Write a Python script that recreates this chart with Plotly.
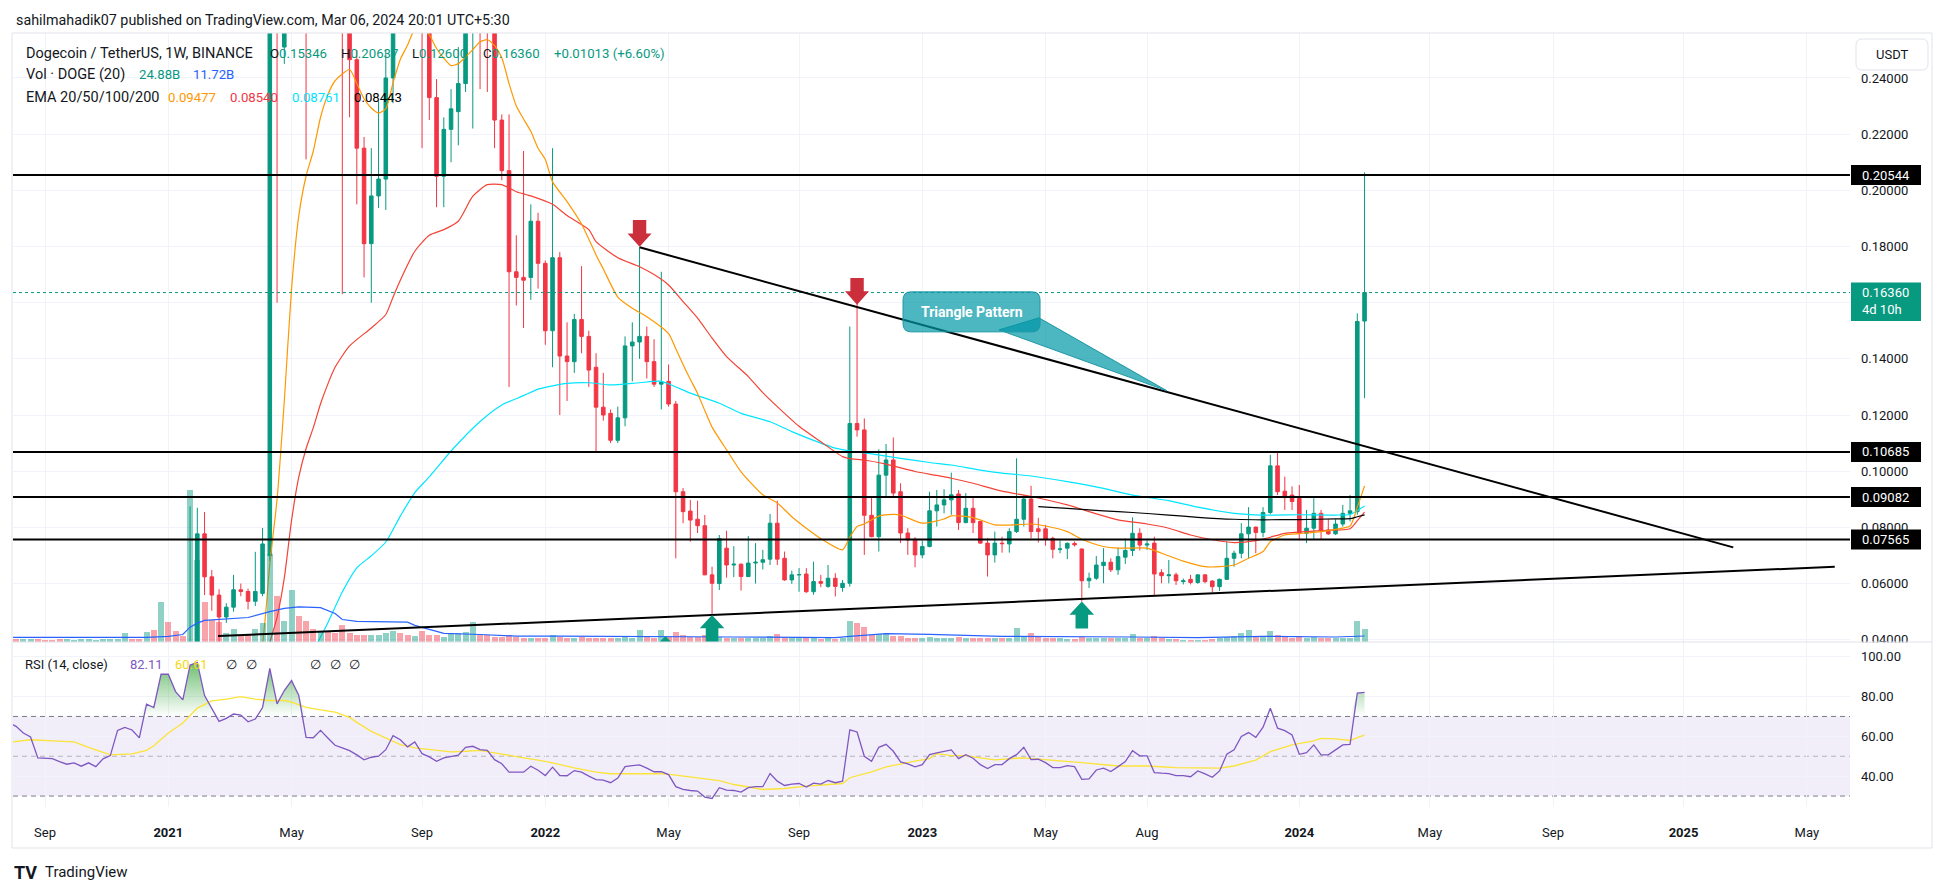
import pandas as pd
import plotly.graph_objects as go

W, H = 1946, 893
UP, DOWN = "#089981", "#f23645"
TXT = "#131722"
GRID = "#f0f3fa"
FONT = "Roboto"

# weekly bars, DOGE/USDT Binance, first bar = week of 2020-08-03
weeks = pd.date_range("2020-08-03", periods=188, freq="7D")

opens = (
    [.0033, .0036, .0034, .0035, .0035, .0030, .0029, .0027, .0026, .0026, .0026, .0026, .0026, .0026, .0027, .0028,
     .0033, .0034, .0033, .0032, .0047, .0046]
    + [.0098, .0090, .0082, .0077, .0370, .0777, .0624, .0559, .0481, .0516, .0578, .0572, .0537, .0565, .0700, .3180,
       .2510, .3950, .5850, .4900, .3400, .3000, .3300, .3100, .2800, .2620, .2465, .2150, .1810, .1980, .2040, .2400,
       .3350, .3250, .3000, .3100, .2600, .2330, .2050, .2217, .2280, .2380, .2620, .2680, .2650, .2620, .2250, .2070,
       .1710, .1690, .1690, .1890]
    + [.1740, .1500, .1760, .1410, .1390, .1540, .1480, .1370, .1228, .1206, .1110, .1190, .1446, .1460, .1480, .1390,
       .1310, .1320, .1239, .0927, .0858, .0829, .0806, .0631, .0600, .0726, .0666, .0669, .0625, .0673, .0676, .0687,
       .0815, .0690, .0613, .0631, .0634, .0571, .0607, .0590, .0619, .0586, .0601, .1170, .1147, .0843, .0767, .0986,
       .1040, .0927, .0780, .0758]
    + [.0702, .0732, .0859, .0880, .0898, .0919, .0817, .0868, .0821, .0744, .0702, .0744, .0741, .0785, .0829, .0901,
       .0795, .0795, .0761, .0722, .0726, .0743, .0723, .0610, .0619, .0664, .0676, .0649, .0694, .0718, .0779, .0737,
       .0744, .0639, .0628, .0631, .0607, .0615, .0604, .0631, .0609, .0589, .0615, .0690, .0708, .0777, .0801, .0782,
       .0853, .1019, .0929, .0915]
    + [.0903, .0779, .0797, .0850, .0791, .0777, .0812, .0850, .0856, .15346]
)
highs = (
    [.0038, .0037, .0037, .0036, .0036, .0031, .0030, .0028, .0027, .0027, .0027, .0027, .0027, .0028, .0029, .0034,
     .0046, .0036, .0034, .0049, .0051, .0107]
    + [.0110, .0095, .0088, .0875, .0870, .0855, .0648, .0580, .0530, .0631, .0600, .0582, .0713, .0798, .4400, .4300,
       .4200, .7400, .6000, .5000, .3600, .4400, .3400, .3300, .2900, .2720, .2500, .2190, .2150, .2317, .2500, .3500,
       .3500, .3300, .3300, .3200, .2650, .2396, .2260, .2360, .2510, .2750, .3000, .2900, .2900, .2650, .2270, .2270,
       .1840, .2140, .1950, .1920]
    + [.1750, .2150, .1780, .1530, .1560, .1730, .1500, .1420, .1350, .1220, .1230, .1480, .1530, .1797, .1515, .1470,
       .1710, .1380, .1250, .0940, .0898, .0895, .0844, .0660, .0773, .0788, .0733, .0672, .0769, .0744, .0720, .0848,
       .0895, .0714, .0646, .0655, .0655, .0678, .0631, .0666, .0637, .0613, .1515, .1596, .1188, .0910, .1078, .1097,
       .1120, .0957, .0797, .0765]
    + [.0753, .0927, .0933, .0936, .0995, .0933, .0922, .0910, .0821, .0762, .0785, .0767, .0797, .1046, .0915, .0948,
       .0834, .0809, .0767, .0753, .0747, .0750, .0725, .0639, .0698, .0726, .0690, .0728, .0761, .0836, .0797, .0753,
       .0767, .0651, .0684, .0639, .0618, .0631, .0633, .0633, .0612, .0618, .0749, .0717, .0815, .0872, .0803, .0872,
       .1058, .1070, .0981, .0946]
    + [.0951, .0862, .0904, .0862, .0829, .0829, .0880, .0915, .1562, .20637]
)
lows = (
    [.0032, .0033, .0033, .0034, .0028, .0028, .0027, .0025, .0025, .0025, .0025, .0025, .0025, .0025, .0026, .0027,
     .0028, .0031, .0030, .0031, .0039, .0044]
    + [.0071, .0076, .0070, .0074, .0320, .0559, .0503, .0370, .0460, .0500, .0555, .0508, .0520, .0555, .0680, .1600,
       .2450, .3700, .3300, .2110, .2600, .2900, .2800, .2600, .1630, .2260, .1950, .1690, .1600, .1937, .1930, .2310,
       .2700, .2800, .2600, .2150, .2250, .1940, .1940, .2100, .2160, .2350, .2220, .2360, .2350, .2150, .2036, .1300,
       .1590, .1510, .1610, .1650]
    + [.1450, .1370, .1200, .1250, .1350, .1420, .1300, .1066, .1180, .1100, .1100, .1160, .1320, .1400, .1330, .1300,
       .1220, .1230, .0690, .0815, .0749, .0780, .0630, .0488, .0577, .0621, .0623, .0575, .0623, .0600, .0650, .0666,
       .0666, .0610, .0599, .0571, .0567, .0560, .0587, .0585, .0554, .0571, .0589, .1123, .0702, .0765, .0714, .0910,
       .0910, .0744, .0702, .0658]
    + [.0690, .0729, .0803, .0850, .0845, .0791, .0815, .0780, .0741, .0625, .0675, .0710, .0710, .0780, .0803, .0761,
       .0746, .0735, .0690, .0708, .0687, .0732, .0536, .0584, .0613, .0601, .0641, .0631, .0670, .0698, .0718, .0720,
       .0554, .0601, .0601, .0595, .0597, .0597, .0599, .0601, .0568, .0574, .0613, .0660, .0690, .0690, .0708, .0765,
       .0847, .0915, .0862, .0862]
    + [.0754, .0744, .0755, .0758, .0773, .0773, .0803, .0821, .0845, .12600]
)
closes = (
    [.0036, .0034, .0035, .0035, .0030, .0029, .0027, .0026, .0026, .0026, .0026, .0026, .0026, .0027, .0028, .0033,
     .0034, .0033, .0032, .0047, .0046, .0098]
    + [.0090, .0082, .0077, .0370, .0777, .0624, .0559, .0481, .0516, .0578, .0572, .0537, .0572, .0741, .3180, .2700,
       .3950, .5850, .4900, .3400, .3000, .3300, .3100, .2800, .2620, .2465, .2150, .1810, .1980, .2040, .2400, .3350,
       .3250, .3000, .3100, .2600, .2330, .2050, .2217, .2290, .2380, .2620, .2680, .2650, .2620, .2250, .2070, .1710,
       .1690, .1680, .1890, .1740]
    + [.1500, .1760, .1410, .1390, .1540, .1480, .1360, .1228, .1200, .1110, .1190, .1446, .1460, .1480, .1390, .1310,
       .1318, .1239, .0927, .0856, .0826, .0806, .0631, .0601, .0760, .0666, .0669, .0625, .0673, .0676, .0685, .0815,
       .0687, .0613, .0631, .0632, .0571, .0607, .0601, .0619, .0590, .0601, .1170, .1147, .0843, .0767, .0986, .1040,
       .0922, .0780, .0755, .0702]
    + [.0732, .0859, .0880, .0898, .0916, .0817, .0868, .0817, .0744, .0702, .0744, .0742, .0785, .0829, .0901, .0785,
       .0785, .0757, .0722, .0723, .0743, .0738, .0610, .0619, .0666, .0676, .0649, .0696, .0718, .0779, .0737, .0741,
       .0634, .0628, .0631, .0610, .0610, .0604, .0631, .0607, .0589, .0615, .0690, .0708, .0777, .0801, .0782, .0853,
       .1019, .0927, .0906, .0892]
    + [.0779, .0797, .0850, .0789, .0777, .0812, .0850, .0859, .1533, .16360]
)
# volume, billions of DOGE
volumes = (
    [5.9, 5.9, 5.9, 5.9, 5.9, 4.9, 4.9, 5.9, 5.9, 4.9, 5.9, 5.9, 4.9, 5.9, 5.9, 5.9, 17.1, 5.9, 5.9, 19.6, 23.5, 78.4]
    + [39.2, 21.6, 11.8, 298, 161, 78.4, 44.1, 39.2, 17.1, 26.3, 13.1, 13.1, 26.3, 36.5, 172, 90.7, 40.4, 102, 51.9,
       40.4, 24.9, 21.0, 22.5, 17.1, 34.1, 17.1, 13.1, 13.1, 13.1, 14.7, 17.1, 21.0, 17.1, 13.1, 11.8, 21.0, 13.1, 13.1,
       9.2, 17.1, 17.1, 19.6, 39.2, 13.1, 13.1, 9.2, 9.2, 14.7, 9.2, 8.8, 8.8, 6.9]
    + [6.9, 13.1, 9.8, 8.8, 7.8, 9.8, 8.8, 7.8, 7.8, 6.9, 7.8, 9.8, 8.8, 22.9, 9.8, 8.8, 22.9, 9.8, 19.6, 13.7, 9.8,
       9.8, 13.1, 9.8, 9.8, 7.8, 6.9, 6.9, 6.9, 6.9, 6.9, 10.8, 15.1, 8.8, 7.8, 6.9, 6.9, 6.9, 5.9, 6.9, 5.9, 6.9, 40.6,
       37.2, 29.4, 13.7, 15.1, 17.6, 12.7, 10.8, 8.8, 7.8]
    + [6.9, 9.8, 8.8, 7.8, 7.8, 9.8, 8.8, 7.8, 7.8, 6.9, 7.8, 6.9, 7.8, 27.4, 11.8, 17.6, 9.8, 7.8, 6.9, 6.9, 5.9, 5.9,
       9.8, 6.9, 6.9, 6.9, 6.9, 6.9, 7.8, 15.1, 8.8, 6.9, 10.8, 6.9, 5.9, 5.9, 4.9, 4.9, 4.9, 4.9, 5.9, 6.9, 9.8, 11.8,
       17.6, 22.9, 9.8, 11.8, 21.6, 13.1, 9.8, 8.8]
    + [11.8, 8.8, 9.8, 7.8, 6.9, 7.8, 7.8, 8.8, 40.6, 24.88]
)
rsi = (
    [67.0, 65.0, 61.7, 59.7, 49.2, 49.0, 48.8, 47.3, 46.0, 46.7, 45.0, 46.7, 44.8, 48.7, 50.3, 63.0, 64.5, 63.2, 59.2,
     76.2, 74.5, 91.2]
    + [91.2, 82.5, 78.3, 95.8, 97.0, 80.5, 74.2, 67.5, 69.0, 71.2, 70.7, 67.3, 68.7, 74.5, 94.2, 76.3, 83.0, 88.0, 80.5,
       59.5, 59.3, 63.0, 59.2, 55.5, 54.2, 52.8, 50.7, 48.2, 49.5, 50.0, 53.3, 60.3, 58.3, 54.7, 57.2, 51.3, 49.7, 47.5,
       49.2, 49.8, 50.5, 54.5, 55.0, 53.3, 53.0, 48.3, 46.2, 42.0, 42.0, 42.0, 45.0, 43.0]
    + [40.3, 44.5, 40.3, 40.2, 42.8, 42.0, 40.0, 38.3, 38.0, 36.7, 39.0, 44.8, 45.3, 45.7, 44.0, 42.2, 42.3, 40.8, 34.7,
       33.3, 32.8, 32.5, 29.5, 28.8, 34.2, 33.0, 32.8, 32.0, 34.2, 34.7, 34.7, 41.3, 37.5, 35.3, 36.0, 36.3, 34.5, 36.5,
       36.0, 37.8, 36.7, 37.5, 63.3, 62.2, 50.0, 47.5, 54.5, 56.0, 52.5, 47.2, 46.2, 44.7]
    + [45.8, 50.8, 51.7, 52.3, 53.2, 48.8, 50.8, 49.0, 45.8, 43.8, 45.8, 45.8, 48.8, 50.8, 54.5, 48.3, 48.5, 46.8, 44.3,
       44.3, 45.3, 44.8, 38.4, 38.6, 43.1, 44.0, 42.3, 44.8, 47.3, 52.8, 50.2, 50.2, 41.8, 41.5, 41.3, 40.3, 40.3, 39.7,
       42.6, 41.1, 39.4, 42.6, 51.0, 53.2, 59.9, 61.9, 59.5, 64.6, 74.1, 64.1, 62.9, 60.7]
    + [51.0, 51.8, 55.7, 50.7, 50.7, 53.2, 55.7, 56.0, 81.7, 82.11]
)

# indicator lines; k = weeks counted from 2020-08-10
ema20_k = [33, 34, 35, 36, 37, 38, 39, 40, 41, 42, 43, 44, 46, 47, 48, 49, 50, 51, 52, 53, 54, 55, 56, 57, 58, 59, 60,
           61, 62, 63, 64, 65, 66, 67, 68, 69, 70, 71, 72, 73, 74, 76, 78, 80, 81, 83, 85, 87, 90, 91, 92, 93, 94, 95,
           96, 98, 100, 103, 105, 107, 109, 111, 114, 115, 116, 117, 119, 121, 122, 125, 128, 129, 132, 135, 137, 140,
           142, 145, 147, 150, 152, 156, 158, 161, 164, 166, 168, 170, 172, 173, 175, 177, 180, 182, 184, 185, 186]
ema20 = [.030, .039, .067, .090, .125, .165, .191, .205, .214, .226, .234, .239, .243, .238, .2326, .2293, .2275, .2290,
         .2383, .2466, .2517, .2573, .2576, .2553, .2505, .2470, .2444, .2451, .2475, .2501, .2529, .2536, .2515, .2472,
         .2380, .2300, .2254, .2210, .2150, .2110, .2030, .1960, .1880, .1770, .1720, .1620, .1580, .1550, .1490, .1436,
         .1380, .1327, .1277, .1216, .1157, .1076, .0998, .0916, .0887, .0838, .0797, .0760, .0720, .0765, .0803, .0812,
         .0840, .0846, .0844, .0815, .0830, .0841, .0835, .0809, .0808, .0812, .0805, .0785, .0758, .0732, .0726, .0726,
         .0708, .0680, .0660, .0660, .0666, .0690, .0714, .0749, .0773, .0778, .0785, .0793, .0805, .0872, .09477]
ema50_k = [34, 35, 36, 37, 38, 39, 40, 41, 42, 43, 44, 46, 49, 51, 52, 53, 55, 57, 59, 61, 63, 65, 67, 69, 71, 74, 76,
           79, 80, 83, 86, 88, 90, 92, 94, 96, 98, 101, 103, 105, 108, 111, 114, 115, 117, 120, 124, 127, 129, 132, 136,
           140, 145, 149, 152, 156, 159, 162, 165, 168, 171, 173, 175, 180, 184, 185, 186]
ema50 = [.028, .039, .048, .062, .0825, .098, .108, .1155, .124, .131, .137, .1446, .151, .1558, .1620, .168, .1783,
         .184, .186, .189, .1979, .202, .202, .1995, .198, .195, .191, .186, .1817, .176, .1728, .170, .1663, .1604,
         .1545, .1474, .1408, .1337, .128, .123, .116, .1105, .1052, .1045, .104, .1025, .0999, .0985, .0975, .0957,
         .0929, .0910, .0880, .0848, .0827, .0812, .0797, .0773, .0756, .0746, .0753, .0765, .0779, .0789, .0795, .0824,
         .0854]
ema100_k = [41, 42, 43, 45, 47, 49, 51, 53, 55, 57, 60, 64, 67, 70, 72, 74, 76, 79, 82, 86, 89, 91, 93, 97, 100, 104,
            107, 111, 113, 115, 118, 122, 126, 129, 133, 136, 140, 145, 150, 154, 159, 163, 168, 172, 177, 182, 184, 185,
            186]
ema100 = [.036, .041, .046, .057, .0656, .0699, .0748, .084, .0924, .098, .1072, .1177, .1236, .1269, .1292, .1304,
          .1313, .1315, .1307, .1315, .132, .130, .1278, .1242, .1206, .1176, .1141, .110, .1082, .1072, .1062, .1046,
          .1031, .1022, .1004, .0993, .0983, .0963, .0939, .0915, .0895, .0872, .0850, .0844, .0845, .0844, .0846, .0860,
          .08761]
ema200_k = [141, 145, 150, 154, 159, 163, 168, 172, 177, 182, 184, 185, 186]
ema200 = [.0874, .0868, .0859, .0853, .0844, .0836, .0829, .0827, .0828, .0830, .0831, .0838, .08443]
volma_k = [-1, 12, 18, 21, 23, 24, 25, 26, 32, 35, 37, 39, 42, 44, 45, 47, 52, 54, 55, 57, 59, 64, 69, 75, 85, 99, 113,
           115, 120, 126, 136, 145, 154, 163, 168, 172, 182, 185, 186]
volma = [9.2, 9.2, 9.2, 11.0, 14.7, 29.0, 37.0, 42.5, 48.0, 59.6, 65.9, 69.0, 67.4, 55.9, 44.1, 40.4, 38.8, 38.8, 32.5,
         24.9, 17.1, 14.7, 11.6, 11.6, 11.2, 9.8, 8.4, 11.2, 16.3, 15.1, 11.2, 11.2, 9.8, 8.4, 9.8, 11.2, 9.8, 10.8, 11.72]
rsima_k = [-1, 2, 5, 8, 10, 12, 13, 16, 18, 19, 21, 23, 25, 27, 29, 31, 33, 35, 37, 38, 40, 42, 44, 46, 47, 49, 51, 53,
           55, 57, 59, 60, 62, 64, 66, 68, 70, 72, 74, 77, 80, 82, 85, 87, 89, 91, 93, 97, 99, 103, 106, 109, 112, 114,
           115, 117, 118, 120, 122, 124, 126, 127, 129, 131, 133, 135, 138, 139, 141, 144, 147, 152, 156, 160, 166, 168,
           171, 173, 176, 179, 180, 182, 184, 185, 186]
rsima = [57.0, 58.3, 57.7, 57.2, 54.5, 52.0, 50.7, 51.2, 53.0, 55.3, 61.7, 66.7, 74.2, 77.8, 78.7, 80.0, 78.7, 78.0,
         78.0, 77.2, 74.5, 73.3, 72.2, 69.5, 67.0, 62.5, 59.2, 55.8, 54.2, 53.3, 52.5, 52.2, 52.5, 53.0, 51.7, 50.3, 49.2,
         48.0, 46.7, 44.2, 42.0, 41.2, 41.2, 41.3, 41.3, 40.5, 39.5, 37.8, 35.8, 33.3, 33.8, 35.0, 35.8, 36.3, 39.2, 41.3,
         42.2, 44.7, 46.2, 47.5, 48.8, 51.3, 50.3, 50.3, 49.2, 48.2, 49.0, 49.2, 48.6, 47.8, 46.8, 45.1, 45.1, 44.3, 44.0,
         45.1, 48.1, 52.3, 55.7, 57.7, 59.0, 58.7, 57.9, 59.4, 60.61]

levels = [0.20544, 0.10685, 0.09082, 0.07565]
last_price = 0.16360
price_ticks = [0.04, 0.06, 0.08, 0.10, 0.12, 0.14, 0.16, 0.18, 0.20, 0.22, 0.24]
rsi_ticks = [40, 60, 80, 100]
time_ticks = ["2020-09-07", "2021-01-04", "2021-05-03", "2021-09-06", "2022-01-03", "2022-05-02", "2022-09-05",
              "2023-01-02", "2023-05-01", "2023-08-07", "2024-01-01", "2024-05-06", "2024-09-02", "2025-01-06",
              "2025-05-05"]
time_labels = ["Sep", "<b>2021</b>", "May", "Sep", "<b>2022</b>", "May", "Sep", "<b>2023</b>", "May", "Aug",
               "<b>2024</b>", "May", "Sep", "<b>2025</b>", "May"]

for arr in (opens, highs, lows, closes, volumes, rsi):
    assert len(arr) == len(weeks), len(arr)


def wk(ks):
    return [weeks[k + 1] for k in ks]


def px(x):
    return x / W


def py(y):
    return 1 - y / H


XR = ["2020-08-07 01:00", "2025-06-15 17:00"]
vol_colors = ["rgba(8,153,129,0.45)" if c >= o else "rgba(242,54,69,0.45)" for o, c in zip(opens, closes)]

fig = go.Figure()
fig.add_trace(go.Bar(x=weeks, y=volumes, marker=dict(color=vol_colors, line=dict(width=0)),
                     width=5.8 * 86400000, xaxis="x", yaxis="y3"))
fig.add_trace(go.Scatter(x=wk(volma_k), y=volma, mode="lines", line=dict(color="#2962ff", width=1.2),
                         xaxis="x", yaxis="y3"))
for ks, vals, col in [(ema100_k, ema100, "#00e5ff"), (ema50_k, ema50, "#f44336"),
                      (ema20_k, ema20, "#ff9800"), (ema200_k, ema200, "#000000")]:
    fig.add_trace(go.Scatter(x=wk(ks), y=vals, mode="lines", line=dict(color=col, width=1.2, shape="spline",
                                                                         smoothing=0.6),
                             xaxis="x", yaxis="y"))
fig.add_trace(go.Candlestick(x=weeks, open=opens, high=highs, low=lows, close=closes, whiskerwidth=0,
                             increasing=dict(line=dict(color=UP, width=1), fillcolor=UP),
                             decreasing=dict(line=dict(color=DOWN, width=1), fillcolor=DOWN),
                             xaxis="x", yaxis="y"))

# RSI pane
fig.add_trace(go.Scatter(x=weeks, y=[70] * len(rsi), mode="lines", line=dict(width=0), xaxis="x2", yaxis="y2"))
fig.add_trace(go.Scatter(x=weeks, y=[max(v, 70) for v in rsi], mode="lines", line=dict(width=0), fill="tonexty",
                         fillgradient=dict(type="vertical", start=70, stop=100,
                                           colorscale=[[0, "rgba(76,175,80,0)"], [1, "rgba(76,175,80,0.9)"]]),
                         xaxis="x2", yaxis="y2"))
fig.add_trace(go.Scatter(x=wk(rsima_k), y=rsima, mode="lines", line=dict(color="#fbe337", width=1.3),
                         xaxis="x2", yaxis="y2"))
fig.add_trace(go.Scatter(x=weeks, y=rsi, mode="lines", line=dict(color="#7e57c2", width=1.3),
                         xaxis="x2", yaxis="y2"))

shapes = []
# RSI band and guide lines
shapes.append(dict(type="rect", xref="x2 domain", yref="y2", x0=0, x1=1, y0=30, y1=70,
                   fillcolor="rgba(126,87,194,0.1)", line=dict(width=0), layer="below"))
for lvl, col in [(70, "#787b86"), (50, "rgba(120,123,134,0.5)"), (30, "#787b86")]:
    shapes.append(dict(type="line", xref="x2 domain", yref="y2", x0=0, x1=1, y0=lvl, y1=lvl,
                       line=dict(color=col, width=1, dash="5px,4px"), layer="below"))
# horizontal levels and current price
for lvl in levels:
    shapes.append(dict(type="line", xref="x domain", yref="y", x0=0, x1=1, y0=lvl, y1=lvl,
                       line=dict(color="#000000", width=2), layer="above"))
shapes.append(dict(type="line", xref="x domain", yref="y", x0=0, x1=1, y0=last_price, y1=last_price,
                   line=dict(color=UP, width=1, dash="dot"), layer="above"))
# trendlines
shapes.append(dict(type="line", xref="x", yref="y", x0=weeks[87], y0=0.1797, x1="2025-02-23", y1=0.0729,
                   line=dict(color="#000000", width=2), layer="above"))
shapes.append(dict(type="line", xref="x", yref="y", x0="2021-02-21", y0=0.0413, x1="2025-06-01", y1=0.0660,
                   line=dict(color="#000000", width=2), layer="above"))
# arrows
down_arrow = "M0,0 L-12,13.3 L-6.7,13.3 L-6.7,26.7 L6.7,26.7 L6.7,13.3 L12,13.3 Z"
up_arrow = "M0,0 L-12.3,-13.3 L-6.3,-13.3 L-6.3,-27 L6.3,-27 L6.3,-13.3 L12.3,-13.3 Z"
for xa, ya, path, col in [(weeks[87], 0.1799, down_arrow, "#cc2f3c"), (weeks[117], 0.1593, down_arrow, "#cc2f3c"),
                          (weeks[97], 0.0488, up_arrow, "#089981"), (weeks[148], 0.0536, up_arrow, "#089981")]:
    shapes.append(dict(type="path", xref="x", yref="y", xsizemode="pixel", ysizemode="pixel", xanchor=xa, yanchor=ya,
                       path=path, fillcolor=col, line=dict(width=0), layer="above"))
shapes.append(dict(type="path", xref="x", yref="y", xsizemode="pixel", ysizemode="pixel",
                   xanchor=weeks[87] + pd.Timedelta(days=25), yanchor=0.0413,
                   path="M0,0 L-7,-7 L7,-7 Z", fillcolor="#089981", line=dict(width=0), layer="above"))
# callout
tip_x, tip_y = pd.Timestamp("2023-08-26 07:00"), 0.1286
shapes.append(dict(type="path", xref="x", yref="y", xsizemode="pixel", ysizemode="pixel", xanchor=tip_x, yanchor=tip_y,
                   path="M-168,61 L0,0 L-128,73 Z", fillcolor="rgba(0,151,167,0.7)",
                   line=dict(color="#1e98a6", width=1), layer="above"))
shapes.append(dict(type="path", xref="x", yref="y", xsizemode="pixel", ysizemode="pixel", xanchor=tip_x, yanchor=tip_y,
                   path="M-256,99 L-135,99 Q-127,99 -127,91 L-127,67 Q-127,59 -135,59 L-256,59 Q-264,59 -264,67 "
                        "L-264,91 Q-264,99 -256,99 Z",
                   fillcolor="rgba(0,151,167,0.7)", line=dict(color="#1e98a6", width=1), layer="above"))
# price scale boxes
for lvl in levels:
    shapes.append(dict(type="rect", xref="paper", yref="y", x0=px(1851), x1=px(1921), ysizemode="pixel",
                       yanchor=lvl, y0=-10, y1=10, fillcolor="#000000", line=dict(width=0), layer="above"))
shapes.append(dict(type="rect", xref="paper", yref="y", x0=px(1851), x1=px(1921), ysizemode="pixel",
                   yanchor=last_price, y0=-28.4, y1=10, fillcolor=UP, line=dict(width=0), layer="above"))
# frame, separators, USDT button
shapes.append(dict(type="rect", xref="paper", yref="paper", x0=px(1851), x1=px(1930), y0=py(648), y1=py(642.5),
                   fillcolor="white", line=dict(width=0), layer="above"))
shapes.append(dict(type="rect", xref="paper", yref="paper", x0=px(12), x1=px(1932), y0=py(848), y1=py(33),
                   line=dict(color="#e0e3eb", width=1), layer="above"))
shapes.append(dict(type="line", xref="paper", yref="paper", x0=px(12), x1=px(1932), y0=py(642), y1=py(642),
                   line=dict(color="#e0e3eb", width=1), layer="above"))
shapes.append(dict(type="path", xref="paper", yref="paper", xsizemode="pixel", ysizemode="pixel",
                   xanchor=px(1892), yanchor=py(54.5),
                   path="M-30,15.5 L30,15.5 Q36,15.5 36,9.5 L36,-9.5 Q36,-15.5 30,-15.5 L-30,-15.5 Q-36,-15.5 -36,-9.5 "
                        "L-36,9.5 Q-36,15.5 -30,15.5 Z",
                   fillcolor="white", line=dict(color="#e0e3eb", width=1), layer="above"))

ann = []


def text(s, x, y, size=14, color=TXT, anchor="left"):
    ann.append(dict(text=s, x=px(x), y=py(y), xref="paper", yref="paper", xanchor=anchor, yanchor="middle",
                    showarrow=False, font=dict(family=FONT, size=size, color=color)))


def col(s, c):
    return f"<span style='color:{c}'>{s}</span>"


text("sahilmahadik07 published on TradingView.com, Mar 06, 2024 20:01 UTC+5:30", 13.5, 20, size=14.3)
text("Dogecoin / TetherUS, 1W, BINANCE", 23.5, 53, size=14.5)
text("O" + col("0.15346", UP), 267.5, 53, size=13.2)
text("H" + col("0.20637", UP), 338.5, 53, size=13.2)
text("L" + col("0.12600", UP), 410, 53, size=13.2)
text("C" + col("0.16360", UP), 481, 53, size=13.2)
text(col("+0.01013 (+6.60%)", UP), 551.5, 53, size=13.2)
text("Vol · DOGE (20)", 23.5, 75, size=14.5)
text(col("24.88B", UP), 136.8, 75, size=13.2)
text(col("11.72B", "#2962ff"), 190.7, 75, size=13.2)
text("EMA 20/50/100/200", 23.5, 97, size=14.5)
text(col("0.09477", "#ff9800"), 165.8, 97, size=13.2)
text(col("0.08540", "#f23645"), 228, 97, size=13.2)
text(col("0.08761", "#00e5ff"), 290.2, 97, size=13.2)
text(col("0.08443", "#000000"), 351.6, 97, size=13.2)
text("RSI (14, close)", 23.3, 664, size=13)
text(col("82.11", "#7e57c2"), 128, 664, size=13)
text(col("60.61", "#f5d80f"), 173, 664, size=13)
for xx in (224, 244, 308, 328, 347):
    text("∅", xx, 664, size=13)
text("USDT", 1892, 54.5, size=13, anchor="center")
text("<b>TV</b>", 12, 872, size=18)
text("TradingView", 43, 872, size=15)

for lvl in levels:
    ann.append(dict(text=f"{lvl:.5f}", x=px(1860), y=lvl, xref="paper", yref="y", xanchor="left", yanchor="middle",
                    showarrow=False, font=dict(family=FONT, size=13, color="white")))
ann.append(dict(text=f"{last_price:.5f}", x=px(1860), y=last_price, xref="paper", yref="y", xanchor="left",
                yanchor="middle", showarrow=False, font=dict(family=FONT, size=13, color="white")))
ann.append(dict(text="4d 10h", x=px(1860), y=last_price, yshift=-17, xref="paper", yref="y", xanchor="left",
                yanchor="middle", showarrow=False, font=dict(family=FONT, size=13, color="white")))
ann.append(dict(text="<b>Triangle Pattern</b>", x=tip_x, y=tip_y, xshift=-195.5, yshift=79, xref="x", yref="y",
                xanchor="center", yanchor="middle", showarrow=False, font=dict(family=FONT, size=14, color="white")))

# the 0.16 tick label sits under the live price box, so only its grid line shows
price_labels = ["" if abs(v - 0.16) < 1e-9 else f"{v:.5f}" for v in price_ticks]

axis_common = dict(showline=False, zeroline=False, automargin=False, gridcolor=GRID, gridwidth=1)
fig.update_layout(
    width=W, height=H, margin=dict(l=0, r=0, t=0, b=0),
    paper_bgcolor="white", plot_bgcolor="rgba(0,0,0,0)",
    showlegend=False, bargap=0, font=dict(family=FONT, color=TXT),
    xaxis=dict(domain=[px(13), px(1850)], range=XR, type="date", anchor="y", tickvals=time_ticks,
               showticklabels=False, rangeslider=dict(visible=False), ticks="", **axis_common),
    xaxis2=dict(domain=[px(13), px(1850)], range=XR, type="date", anchor="y2", tickvals=time_ticks,
                ticktext=time_labels, ticks="", ticklabelstandoff=16, tickfont=dict(size=13, color=TXT),
                **axis_common),
    yaxis=dict(domain=[py(642), py(33)], range=[0.0392, 0.2560], side="right", anchor="x", tickvals=price_ticks,
               ticktext=price_labels, ticks="", ticklabelstandoff=10,
               tickfont=dict(size=13, color=TXT), **axis_common),
    yaxis2=dict(domain=[py(807), py(642)], range=[24.5, 107.4], side="right", anchor="x2", tickvals=rsi_ticks,
                ticktext=[f"{v:.2f}" for v in rsi_ticks], ticks="", ticklabelstandoff=10,
                tickfont=dict(size=13, color=TXT), **axis_common),
    yaxis3=dict(overlaying="y", anchor="x", range=[0, 1.96 * 609], visible=False),
    shapes=shapes, annotations=ann,
)

fig.write_html("out.html", config={"displayModeBar": False},
               post_script="document.body.style.margin='0';document.body.style.overflow='hidden';")
